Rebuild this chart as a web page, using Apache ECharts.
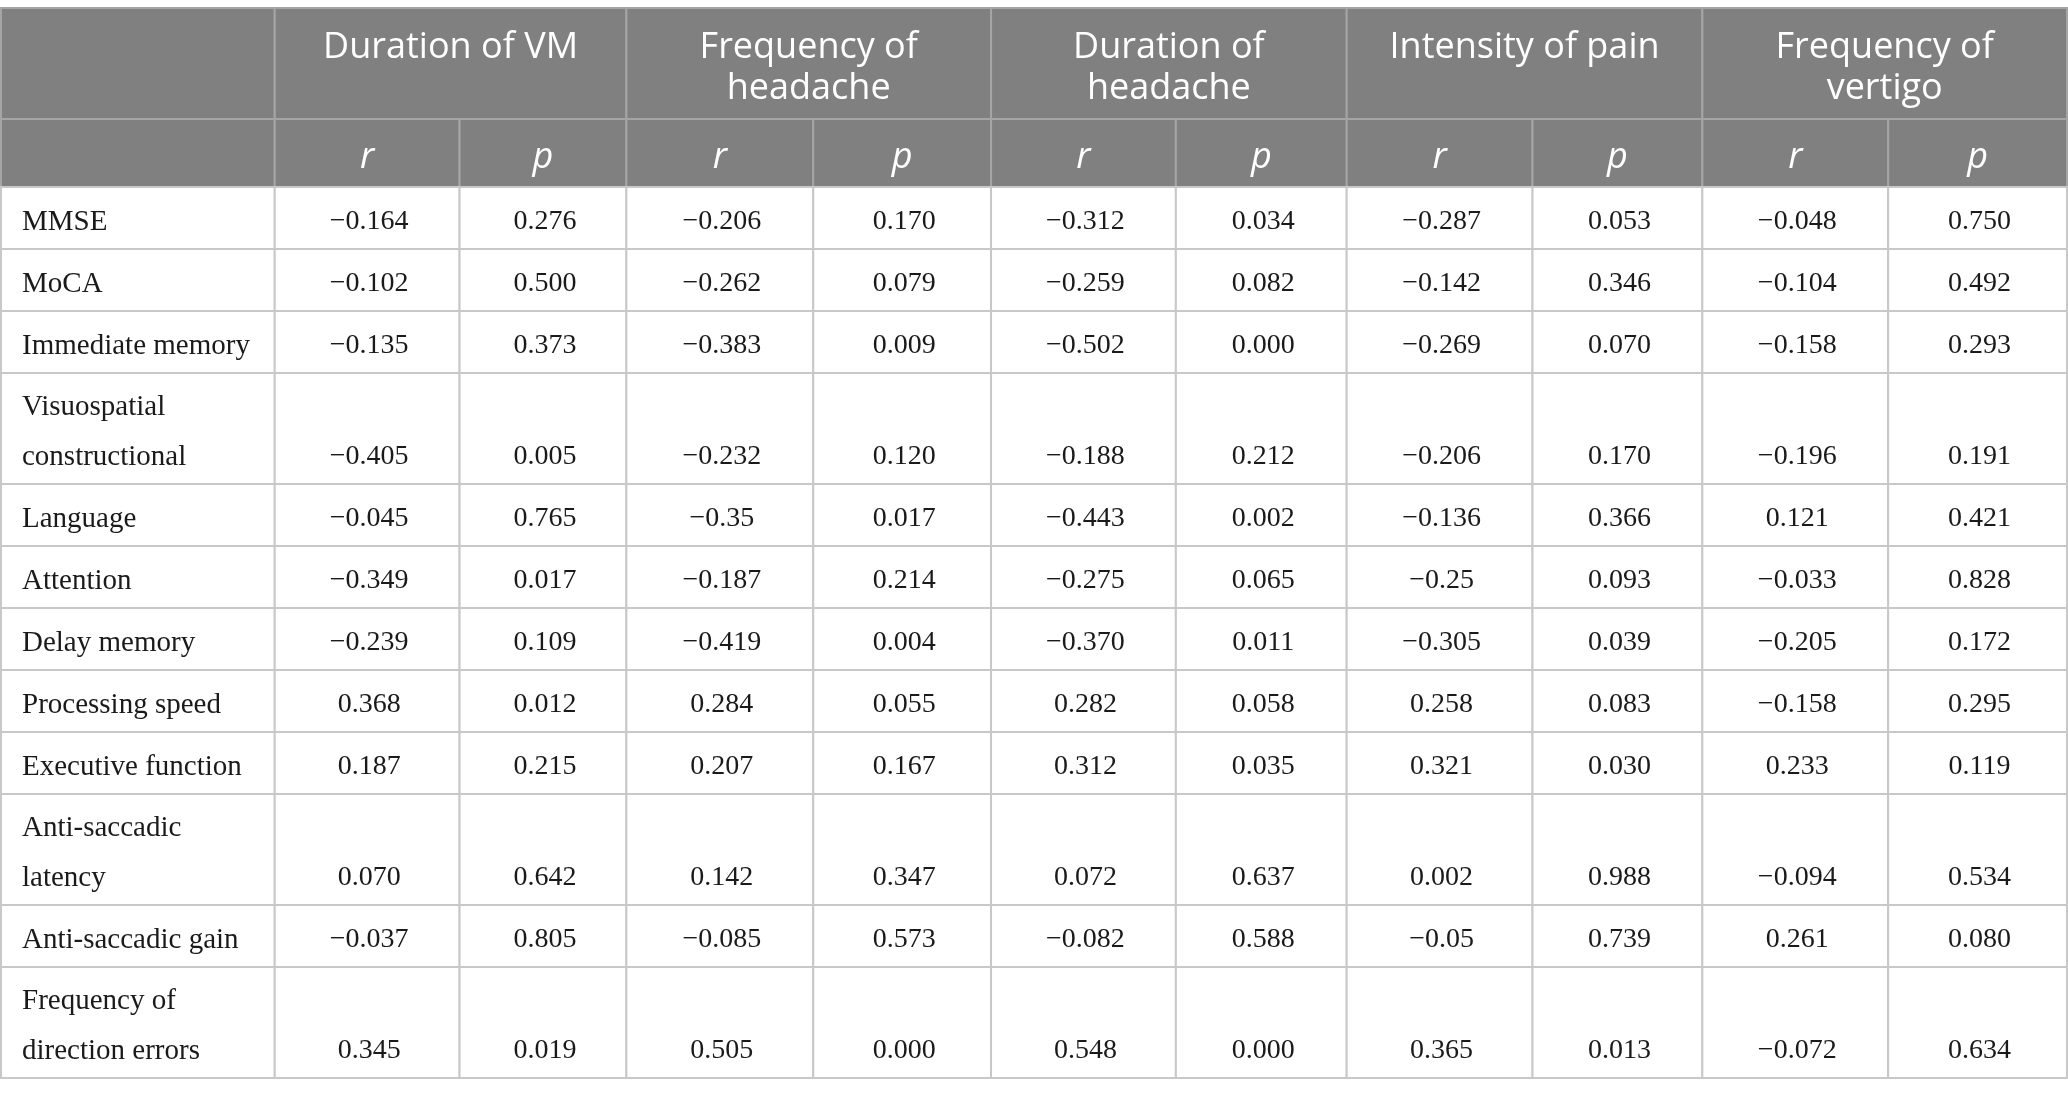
<!DOCTYPE html>
<html>
<head>
<meta charset="utf-8">
<script src="https://cdn.jsdelivr.net/npm/echarts@6/dist/echarts.min.js"></script>
<style>
html,body{margin:0;padding:0;background:#fff}
#main{width:2068px;height:1097px}
</style>
</head>
<body>
<div id="main"></div>
<script>
// table content
var measures = ['Duration of VM', 'Frequency of\nheadache', 'Duration of\nheadache', 'Intensity of pain', 'Frequency of\nvertigo'];
var subHeads = ['r', 'p'];
var rowLabels = ['MMSE', 'MoCA', 'Immediate memory', 'Visuospatial\nconstructional', 'Language', 'Attention',
    'Delay memory', 'Processing speed', 'Executive function', 'Anti-saccadic\nlatency', 'Anti-saccadic gain',
    'Frequency of\ndirection errors'];

var durVM_r = ['−0.164', '−0.102', '−0.135', '−0.405', '−0.045', '−0.349', '−0.239', '0.368', '0.187', '0.070', '−0.037', '0.345'];
var durVM_p = ['0.276', '0.500', '0.373', '0.005', '0.765', '0.017', '0.109', '0.012', '0.215', '0.642', '0.805', '0.019'];
var freqHead_r = ['−0.206', '−0.262', '−0.383', '−0.232', '−0.35', '−0.187', '−0.419', '0.284', '0.207', '0.142', '−0.085', '0.505'];
var freqHead_p = ['0.170', '0.079', '0.009', '0.120', '0.017', '0.214', '0.004', '0.055', '0.167', '0.347', '0.573', '0.000'];
var durHead_r = ['−0.312', '−0.259', '−0.502', '−0.188', '−0.443', '−0.275', '−0.370', '0.282', '0.312', '0.072', '−0.082', '0.548'];
var durHead_p = ['0.034', '0.082', '0.000', '0.212', '0.002', '0.065', '0.011', '0.058', '0.035', '0.637', '0.588', '0.000'];
var pain_r = ['−0.287', '−0.142', '−0.269', '−0.206', '−0.136', '−0.25', '−0.305', '0.258', '0.321', '0.002', '−0.05', '0.365'];
var pain_p = ['0.053', '0.346', '0.070', '0.170', '0.366', '0.093', '0.039', '0.083', '0.030', '0.988', '0.739', '0.013'];
var vert_r = ['−0.048', '−0.104', '−0.158', '−0.196', '0.121', '−0.033', '−0.205', '−0.158', '0.233', '−0.094', '0.261', '−0.072'];
var vert_p = ['0.750', '0.492', '0.293', '0.191', '0.421', '0.828', '0.172', '0.295', '0.119', '0.534', '0.080', '0.634'];

var valueCols = [durVM_r, durVM_p, freqHead_r, freqHead_p, durHead_r, durHead_p, pain_r, pain_p, vert_r, vert_p];

// layout
var colW = [274, 185, 167, 187, 178, 185, 171, 186, 170, 186, 179];
var rowH = [111, 68];
rowLabels.forEach(function (l) { rowH.push(l.indexOf('\n') >= 0 ? 111 : 62); });

function edges(arr) {
    var e = [0];
    for (var i = 0; i < arr.length; i++) e.push(e[i] + arr[i]);
    return e;
}
var colE = edges(colW);
var rowE = edges(rowH);
var totalW = colE[colE.length - 1];
var totalH = rowE[rowE.length - 1];

// cells: [col, row, colspan, rowspan, kind], text kept alongside
var cells = [];
var texts = [];
function addCell(c, r, cs, rs, kind, text) {
    cells.push([c, r, cs, rs, kind]);
    texts.push(text);
}
addCell(0, 0, 1, 1, 0, '');
addCell(0, 1, 1, 1, 0, '');
measures.forEach(function (m, i) {
    addCell(1 + i * 2, 0, 2, 1, 0, m);
    addCell(1 + i * 2, 1, 1, 1, 1, subHeads[0]);
    addCell(2 + i * 2, 1, 1, 1, 1, subHeads[1]);
});
rowLabels.forEach(function (l, r) {
    addCell(0, r + 2, 1, 1, 2, l);
    valueCols.forEach(function (col, c) {
        addCell(c + 1, r + 2, 1, 1, 3, col[r]);
    });
});

var dom = document.getElementById('main');
var myChart = echarts.init(dom);

function renderCell(params, api) {
    var c = api.value(0), r = api.value(1), cs = api.value(2), rs = api.value(3), kind = api.value(4);
    var p0 = api.coord([colE[c], rowE[r]]);
    var p1 = api.coord([colE[c + cs], rowE[r + rs]]);
    var w = p1[0] - p0[0], h = p1[1] - p0[1];
    var header = kind < 2;
    var text = texts[params.dataIndex];
    var ts;
    if (kind === 0) {
        ts = {x: p0[0] + w / 2, y: p0[1] + 19, align: 'center', verticalAlign: 'top',
            font: '36px "Open Sans"', lineHeight: 41, fill: '#ffffff'};
    } else if (kind === 1) {
        ts = {x: p0[0] + w / 2, y: p0[1] + h / 2 + 5, align: 'center', verticalAlign: 'middle',
            font: 'italic 36px "Open Sans"', fill: '#ffffff'};
    } else if (kind === 2) {
        ts = {x: p0[0] + 21, y: p1[1] - 2, align: 'left', verticalAlign: 'bottom',
            font: '29px "Liberation Serif"', lineHeight: 50, fill: '#1a1a1a'};
    } else {
        ts = {x: p0[0] + w / 2 + 2, y: p1[1] - 2, align: 'center', verticalAlign: 'bottom',
            font: '28px "Liberation Serif"', lineHeight: 50, fill: '#1a1a1a'};
    }
    ts.text = text;
    return {
        type: 'group',
        children: [{
            type: 'rect',
            shape: {x: p0[0], y: p0[1], width: w, height: h},
            style: {fill: header ? '#7f807f' : '#ffffff', stroke: header ? '#a4a5a4' : '#c8c8c8', lineWidth: 2}
        }, {
            type: 'text',
            style: ts
        }]
    };
}

var option = {
    animation: false,
    backgroundColor: '#ffffff',
    grid: {left: 1, right: 1, top: 8, height: totalH},
    xAxis: {type: 'value', min: 0, max: totalW, show: false},
    yAxis: {type: 'value', min: 0, max: totalH, inverse: true, show: false},
    series: [{
        type: 'custom',
        clip: false,
        renderItem: renderCell,
        encode: {x: 0, y: 1},
        data: cells
    }]
};
myChart.setOption(option, true);
</script>
</body>
</html>
